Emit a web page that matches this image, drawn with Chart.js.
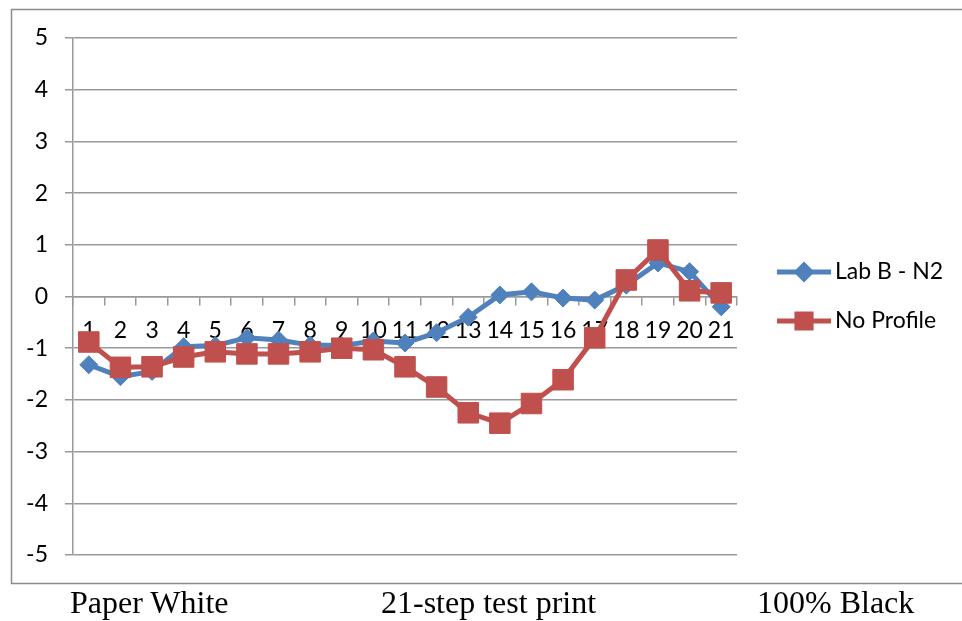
<!DOCTYPE html>
<html>
<head>
<meta charset="utf-8">
<script src="https://cdn.jsdelivr.net/npm/chart.js@4/dist/chart.umd.min.js"></script>
<style>
  body { margin: 0; background: #fff; }
  #wrap { position: relative; width: 962px; height: 621px; overflow: hidden; }
  #chart { position: absolute; left: 0; top: 0; }
  .cap { position: absolute; top: 586px; font-family: "Liberation Serif", "Times New Roman", serif;
         font-size: 32px; line-height: 32px; color: #000; white-space: nowrap; }
</style>
</head>
<body>
<div id="wrap">
  <canvas id="chart" width="962" height="621"></canvas>
  <div class="cap" style="left:70px">Paper White</div>
  <div class="cap" style="left:381px">21-step test print</div>
  <div class="cap" style="left:757px">100% Black</div>
</div>
<script>
var steps = ['1', '2', '3', '4', '5', '6', '7', '8', '9', '10', '11', '12', '13', '14', '15', '16', '17', '18', '19', '20', '21']
var labB = [-1.32, -1.55, -1.45, -0.97, -0.95, -0.8, -0.84, -0.94, -0.95, -0.86, -0.9, -0.7, -0.4, 0.03, 0.09, -0.03, -0.07, 0.22, 0.65, 0.48, -0.2]
var noProfile = [-0.88, -1.37, -1.36, -1.17, -1.07, -1.11, -1.11, -1.07, -1.0, -1.03, -1.36, -1.75, -2.25, -2.45, -2.07, -1.61, -0.8, 0.32, 0.9, 0.11, 0.07]

var blue = '#4F81BD'
var red = '#C0504D'
var gridColor = '#999999'
var tickFont = { family: 'Lato, "Noto Sans", sans-serif', size: 23 }

// frame round the chart and the legend on the right
var extras = {
  id: 'extras',
  beforeDraw: function(chart) {
    var ctx = chart.ctx
    ctx.save()
    ctx.strokeStyle = '#8c8c8c'
    ctx.lineWidth = 1.5
    ctx.strokeRect(11.5, 9.5, 980, 574)
    ctx.restore()
  },
  afterDraw: function(chart) {
    var ctx = chart.ctx
    var rows = [
      { ds: chart.data.datasets[0], y: 272, r: 7 },
      { ds: chart.data.datasets[1], y: 321, r: 10 }
    ]
    ctx.save()
    rows.forEach(function(row) {
      ctx.strokeStyle = row.ds.borderColor
      ctx.lineWidth = row.ds.borderWidth
      ctx.beginPath()
      ctx.moveTo(777, row.y)
      ctx.lineTo(831, row.y)
      ctx.stroke()
      ctx.fillStyle = row.ds.pointBackgroundColor
      ctx.strokeStyle = row.ds.pointBorderColor
      Chart.helpers.drawPoint(ctx, { pointStyle: row.ds.pointStyle, radius: row.r, rotation: 0, borderWidth: 1 }, 804, row.y)
      ctx.fillStyle = '#000'
      ctx.font = '23px Lato, "Noto Sans", sans-serif'
      ctx.textBaseline = 'middle'
      ctx.textAlign = 'left'
      ctx.fillText(row.ds.label, 835, row.y)
    })
    ctx.restore()
  }
}

new Chart(document.getElementById('chart'), {
  type: 'line',
  data: {
    labels: steps,
    datasets: [
      {
        label: 'Lab B - N2',
        data: labB,
        borderColor: blue,
        borderWidth: 5,
        pointStyle: 'rectRot',
        pointRadius: 9,
        pointBackgroundColor: blue,
        pointBorderColor: blue,
        pointBorderWidth: 1,
        tension: 0,
        order: 1
      },
      {
        label: 'No Profile',
        data: noProfile,
        borderColor: red,
        borderWidth: 5,
        pointStyle: 'rect',
        pointRadius: 14.5,
        pointBackgroundColor: red,
        pointBorderColor: red,
        pointBorderWidth: 1,
        tension: 0,
        order: 0
      }
    ]
  },
  options: {
    responsive: false,
    animation: false,
    layout: { padding: { left: 11, top: 38, right: 225, bottom: 66 } },
    plugins: { legend: { display: false }, tooltip: { enabled: false } },
    scales: {
      x: {
        type: 'category',
        position: { y: 0 },
        offset: true,
        grid: { drawOnChartArea: false, drawTicks: true, tickLength: 8, color: gridColor, lineWidth: 1.5, offset: true },
        border: { display: true, color: gridColor, width: 1.5 },
        ticks: { color: '#000', font: tickFont, padding: 12, maxRotation: 0, autoSkip: false }
      },
      y: {
        min: -5,
        max: 5,
        afterFit: function(axis) { axis.width = 62 },
        grid: { color: gridColor, lineWidth: 1.5, tickLength: 8 },
        border: { display: true, color: gridColor, width: 1.5 },
        ticks: { stepSize: 1, color: '#000', font: tickFont, padding: 17 }
      }
    }
  },
  plugins: [extras]
})
</script>
</body>
</html>
